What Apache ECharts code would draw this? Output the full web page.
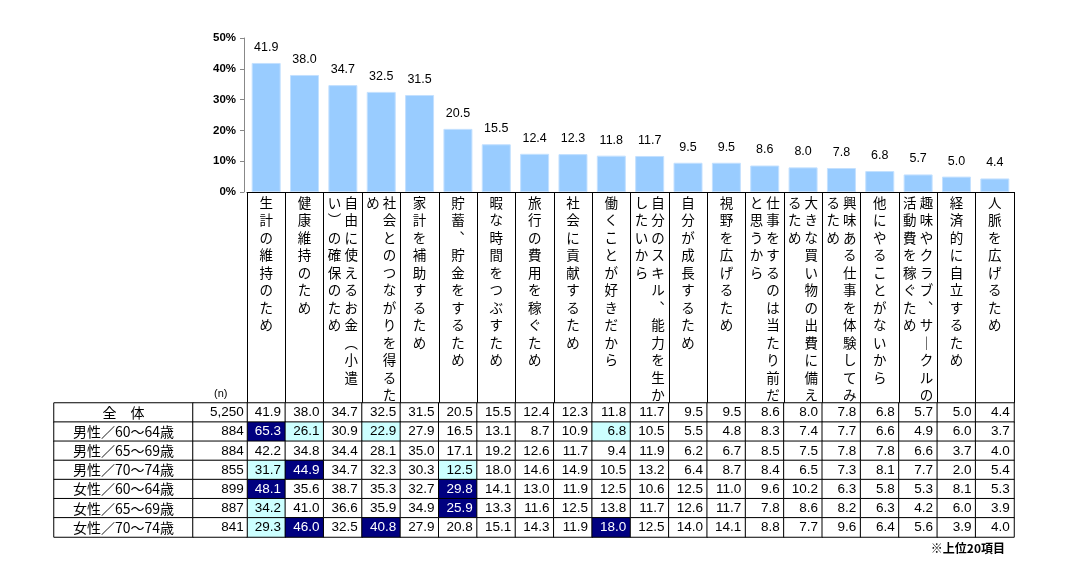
<!DOCTYPE html>
<html lang="ja">
<head>
<meta charset="UTF-8">
<title>働く理由</title>
<script src="https://cdn.jsdelivr.net/npm/echarts@6.0.0/dist/echarts.min.js"></script>
<style>
  html, body { margin: 0; padding: 0; background: #fff; }
  #chart { width: 1071px; height: 580px; }
</style>
</head>
<body>
<div id="chart"></div>
<script>
// 項目（上位20）
const categories = [
  '生計の維持のため', '健康維持のため', '自由に使えるお金（小遣い）の確保のため',
  '社会とのつながりを得るため', '家計を補助するため', '貯蓄、貯金をするため',
  '暇な時間をつぶすため', '旅行の費用を稼ぐため', '社会に貢献するため',
  '働くことが好きだから', '自分のスキル、能力を生かしたいから', '自分が成長するため',
  '視野を広げるため', '仕事をするのは当たり前だと思うから', '大きな買い物の出費に備えるため',
  '興味ある仕事を体験してみるため', '他にやることがないから', '趣味やクラブ、サークルの活動費を稼ぐため',
  '経済的に自立するため', '人脈を広げるため'
];
const overall = [41.9, 38.0, 34.7, 32.5, 31.5, 20.5, 15.5, 12.4, 12.3, 11.8, 11.7, 9.5, 9.5, 8.6, 8.0, 7.8, 6.8, 5.7, 5.0, 4.4];

const rowNames = ['全　体', '男性／60～64歳', '男性／65～69歳', '男性／70～74歳', '女性／60～64歳', '女性／65～69歳', '女性／70～74歳'];
const rowN = [5250, 884, 884, 855, 899, 887, 841];
const male6064 = [65.3, 26.1, 30.9, 22.9, 27.9, 16.5, 13.1, 8.7, 10.9, 6.8, 10.5, 5.5, 4.8, 8.3, 7.4, 7.7, 6.6, 4.9, 6.0, 3.7];
const male6569 = [42.2, 34.8, 34.4, 28.1, 35.0, 17.1, 19.2, 12.6, 11.7, 9.4, 11.9, 6.2, 6.7, 8.5, 7.5, 7.8, 7.8, 6.6, 3.7, 4.0];
const male7074 = [31.7, 44.9, 34.7, 32.3, 30.3, 12.5, 18.0, 14.6, 14.9, 10.5, 13.2, 6.4, 8.7, 8.4, 6.5, 7.3, 8.1, 7.7, 2.0, 5.4];
const female6064 = [48.1, 35.6, 38.7, 35.3, 32.7, 29.8, 14.1, 13.0, 11.9, 12.5, 10.6, 12.5, 11.0, 9.6, 10.2, 6.3, 5.8, 5.3, 8.1, 5.3];
const female6569 = [34.2, 41.0, 36.6, 35.9, 34.9, 25.9, 13.3, 11.6, 12.5, 13.8, 11.7, 12.6, 11.7, 7.8, 8.6, 8.2, 6.3, 4.2, 6.0, 3.9];
const female7074 = [29.3, 46.0, 32.5, 40.8, 27.9, 20.8, 15.1, 14.3, 11.9, 18.0, 12.5, 14.0, 14.1, 8.8, 7.7, 9.6, 6.4, 5.6, 3.9, 4.0];

const tableRows = [overall, male6064, male6569, male7074, female6064, female6569, female7074];

const JP = '"Noto Sans CJK JP", sans-serif';
const NUM = '"Liberation Sans", Arial, sans-serif';
const CELL = ['#ffffff', '#ccffff', '#000080'];

// 縦書き用の字形
const VFORM = { '（': '︵', '）': '︶', '、': '︑', 'ー': '｜' };

function verticalLabel(name) {
  let rest = Array.from(name).map(c => VFORM[c] || c);
  const cols = [];
  while (rest.length > 12) {
    let cut = 12;
    if (rest[cut] === '︶' || rest[cut] === '︑') cut--;
    cols.push(rest.slice(0, cut));
    rest = rest.slice(cut);
  }
  cols.push(rest);
  const lines = [];
  for (let i = 0; i < cols[0].length; i++) {
    if (cols.length === 1) lines.push(cols[0][i]);
    else lines.push((cols[1][i] || '　') + ' ' + cols[0][i]);
  }
  return lines.join('\n');
}

// 全体より5ポイント以上高い：濃色、5ポイント以上低い：淡色
const valueCells = [];
tableRows.forEach((row, r) => {
  row.forEach((v, c) => {
    const d = Math.round((v - overall[c]) * 10);
    const level = r === 0 ? 0 : (d >= 50 ? 2 : (d <= -50 ? 1 : 0));
    valueCells.push({
      value: [c, r, v],
      itemStyle: { color: CELL[level] },
      label: { color: level === 2 ? '#fff' : '#000' }
    });
  });
});
const nameCells = rowNames.map((n, r) => [0, r, r]);
const nCells = rowN.map((n, r) => [0, r, n]);

const rowIdx = rowNames.map((n, i) => i);
const colIdx = categories.map((n, i) => i);

const tableTop = 403, tableBottom = 43;

function tableSeries(xi, data, label) {
  return {
    type: 'heatmap',
    xAxisIndex: xi,
    yAxisIndex: xi,
    data: data,
    itemStyle: { color: '#fff', borderColor: '#000', borderWidth: 1 },
    emphasis: { disabled: true },
    silent: true,
    label: Object.assign({ show: true, fontSize: 13.5, color: '#000' }, label)
  };
}

const chart = echarts.init(document.getElementById('chart'));
const option = {
  animation: false,
  grid: [
    { left: 247, right: 57, top: 38, bottom: 388 },
    { left: 247, right: 57, top: tableTop, bottom: tableBottom },
    { left: 54, width: 139, top: tableTop, bottom: tableBottom },
    { left: 193, width: 54, top: tableTop, bottom: tableBottom }
  ],
  xAxis: [
    {
      type: 'category', gridIndex: 0, data: categories,
      axisLine: { lineStyle: { color: '#000', width: 1 } },
      axisTick: { show: true, length: 211, lineStyle: { color: '#000', width: 1 } },
      axisLabel: {
        interval: 0, margin: 2, color: '#000', fontSize: 13.5, fontFamily: JP,
        lineHeight: 17.5, verticalAlign: 'top', hideOverlap: false,
        formatter: verticalLabel
      }
    },
    { type: 'category', gridIndex: 1, data: colIdx, show: false },
    { type: 'category', gridIndex: 2, data: [0], show: false },
    { type: 'category', gridIndex: 3, data: [0], show: false }
  ],
  yAxis: [
    {
      type: 'value', gridIndex: 0, min: 0, max: 50, interval: 10, offset: 3,
      axisLine: { show: true, lineStyle: { color: '#888' } },
      axisTick: { show: true, length: 4, lineStyle: { color: '#888' } },
      splitLine: { show: false },
      axisLabel: { formatter: '{value}%', color: '#000', fontSize: 11.5, fontWeight: 'bold', fontFamily: NUM, margin: 8 }
    },
    { type: 'category', gridIndex: 1, data: rowIdx, inverse: true, show: false },
    { type: 'category', gridIndex: 2, data: rowIdx, inverse: true, show: false },
    { type: 'category', gridIndex: 3, data: rowIdx, inverse: true, show: false }
  ],
  series: [
    {
      type: 'bar', xAxisIndex: 0, yAxisIndex: 0, data: overall,
      barWidth: 29,
      itemStyle: { color: '#99ccff', borderColor: '#c4e1ff', borderWidth: 1 },
      label: {
        show: true, position: 'top', distance: 9, color: '#000', fontSize: 12.5, fontFamily: NUM,
        formatter: p => p.value.toFixed(1)
      },
      silent: true
    },
    tableSeries(1, valueCells, {
      position: 'insideRight', distance: 5, fontFamily: NUM,
      formatter: p => p.value[2].toFixed(1)
    }),
    tableSeries(2, nameCells, {
      position: 'inside', fontFamily: JP, fontSize: 14,
      formatter: p => rowNames[p.value[1]]
    }),
    tableSeries(3, nCells, {
      position: 'insideRight', distance: 4, fontFamily: NUM,
      formatter: p => p.value[2].toLocaleString('en-US')
    })
  ],
  graphic: [
    { type: 'text', left: 214, top: 388, style: { text: '(n)', font: '11px ' + NUM, fill: '#000' } },
    { type: 'text', right: 66, top: 542, style: { text: '※上位20項目', font: 'bold 12px ' + JP, fill: '#000' } }
  ]
};
chart.setOption(option);
</script>
</body>
</html>
